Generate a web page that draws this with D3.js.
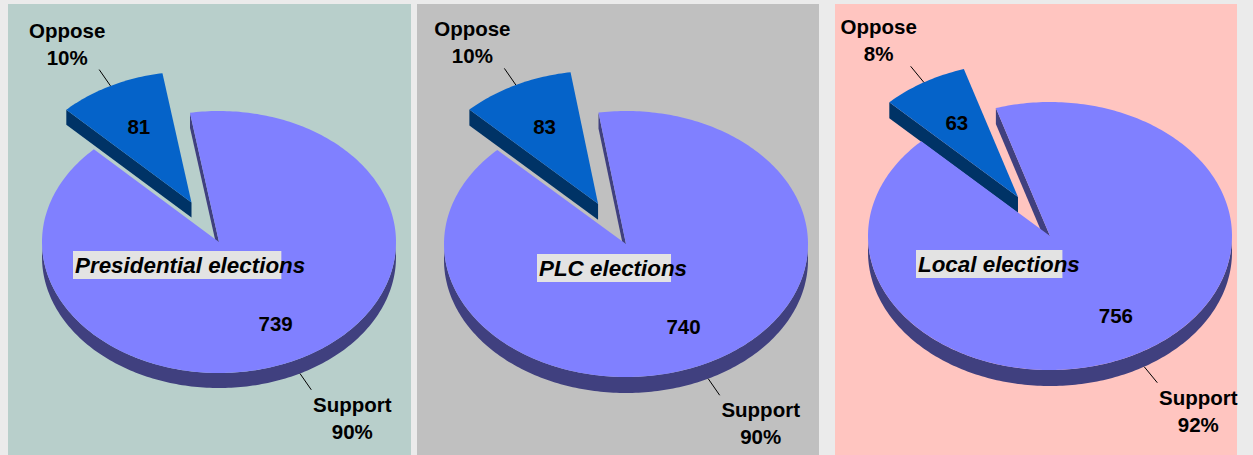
<!DOCTYPE html>
<html>
<head>
<meta charset="utf-8">
<script src="https://cdn.jsdelivr.net/npm/d3@7/dist/d3.min.js"></script>
<style>
  html, body { margin: 0; padding: 0; background: #ebebeb; }
  svg { display: block; }
  text { font-family: "Liberation Sans", Arial, sans-serif; font-weight: bold; fill: #000; }
</style>
</head>
<body>
<svg id="chart" width="1253" height="455"></svg>
<script>
// Survey answers per type of election
const categories = ["Oppose", "Support"];
const elections = ["Presidential elections", "PLC elections", "Local elections"];
const opposeValues = [81, 83, 63];
const supportValues = [739, 740, 756];

// Panel layout: background band, pie ellipse (centre, radii, thickness), title box
const panels = [
  { x0: 8,   x1: 411,  bg: "#b8cfcb", cx: 219,  cy: 242, rx: 177, ry: 131, depth: 15, tx: 73,  ty: 251 },
  { x0: 417, x1: 819,  bg: "#c0c0c0", cx: 626,  cy: 244, rx: 182, ry: 133, depth: 16, tx: 537, ty: 254 },
  { x0: 835, x1: 1237, bg: "#ffc5c0", cx: 1050, cy: 236, rx: 182, ry: 134, depth: 16, tx: 916, ty: 250 }
];

const topColor  = d3.scaleOrdinal().domain(categories).range(["#0563c9", "#8080ff"]);
const sideColor = d3.scaleOrdinal().domain(categories).range(["#003366", "#40407f"]);
const explode   = d3.scaleOrdinal().domain(categories).range([0.34, 0]);
const labelFrac = d3.scaleOrdinal().domain(categories).range([0.65, 0.70]);

const svg = d3.select("#chart");
const line = d3.line();
const pie = d3.pie().sort(null)
  .startAngle(-Math.PI / 4)
  .endAngle(-Math.PI / 4 + 2 * Math.PI);

elections.forEach((title, i) => {
  const P = panels[i];
  const g = svg.append("g");

  g.append("rect")
    .attr("x", P.x0).attr("y", 4)
    .attr("width", P.x1 - P.x0).attr("height", 455)
    .attr("fill", P.bg);

  const values = [opposeValues[i], supportValues[i]];
  const total = d3.sum(values);
  const arcs = pie(values);

  // point on the tilted ellipse at clock angle a, radius fraction r, from centre c
  const pt = (c, a, r, dz = 0) => [c[0] + r * P.rx * Math.sin(a), c[1] - r * P.ry * Math.cos(a) + dz];
  const arcPts = (c, a0, a1, dz = 0) => {
    const n = Math.max(2, Math.ceil(Math.abs(a1 - a0) / (Math.PI / 180)));
    return d3.range(n + 1).map(k => pt(c, a0 + (a1 - a0) * k / n, 1, dz));
  };

  const pieces = arcs.map((d, j) => {
    const cat = categories[j];
    const mid = (d.startAngle + d.endAngle) / 2;
    const c = pt([P.cx, P.cy], mid, explode(cat));
    return { d, cat, mid, c };
  });

  // back slice first (exploded wedge), front slice last
  pieces.forEach(p => {
    const { d, cat, c } = p;
    const a0 = d.startAngle, a1 = d.endAngle;
    const dz = P.depth;

    // curved outer wall on the front half
    const b0 = Math.max(a0, Math.PI / 2), b1 = Math.min(a1, 3 * Math.PI / 2);
    if (b1 > b0) {
      const pts = arcPts(c, b0, b1).concat(arcPts(c, b1, b0, dz));
      g.append("path").attr("d", line(pts) + "Z").attr("fill", sideColor(cat));
    }
    // radial cut faces that turn towards the viewer
    const face = a => [c, pt(c, a, 1), pt(c, a, 1, dz), [c[0], c[1] + dz]];
    if (Math.sin(a0) < 0) g.append("path").attr("d", line(face(a0)) + "Z").attr("fill", sideColor(cat));
    if (Math.sin(a1) > 0) g.append("path").attr("d", line(face(a1)) + "Z").attr("fill", sideColor(cat));

    // top face
    const top = [c].concat(arcPts(c, a0, a1));
    g.append("path").attr("d", line(top) + "Z").attr("fill", topColor(cat));
  });

  pieces.forEach(p => {
    const { d, cat, mid, c } = p;
    // value inside the slice
    const v = pt(c, mid, labelFrac(cat));
    g.append("text")
      .attr("x", v[0]).attr("y", v[1]).attr("dy", "0.35em")
      .attr("text-anchor", "middle").style("font-size", "20.5px")
      .text(d.data);

    // leader line and category label outside the slice
    const front = Math.cos(mid) < 0;
    const dz = front ? P.depth : 0;
    const s = pt(c, mid, 1, dz), e = pt(c, mid, 1.14, dz);
    g.append("line")
      .attr("x1", s[0]).attr("y1", s[1]).attr("x2", e[0]).attr("y2", e[1])
      .attr("stroke", "#000").attr("stroke-width", 1);

    const pct = Math.round(d.data / total * 100) + "%";
    const lx = front ? e[0] + 41 : e[0] - 32;
    const ly = front ? e[1] + 22 : e[1] - 32;
    const t = g.append("text")
      .attr("text-anchor", "middle").style("font-size", "20.5px");
    t.append("tspan").attr("x", lx).attr("y", ly).text(cat);
    t.append("tspan").attr("x", lx).attr("y", ly + 27).text(pct);
  });

  // election title on its grey box
  const tt = g.append("text")
    .attr("x", P.tx + 2).attr("y", P.ty + 22)
    .style("font-size", "22.4px").style("font-style", "italic")
    .text(title);
  const w = tt.node().getComputedTextLength();
  g.insert("rect", function () { return tt.node(); })
    .attr("x", P.tx).attr("y", P.ty)
    .attr("width", w * 0.905).attr("height", 28)
    .attr("fill", "#e3e3e3");
});
</script>
</body>
</html>
